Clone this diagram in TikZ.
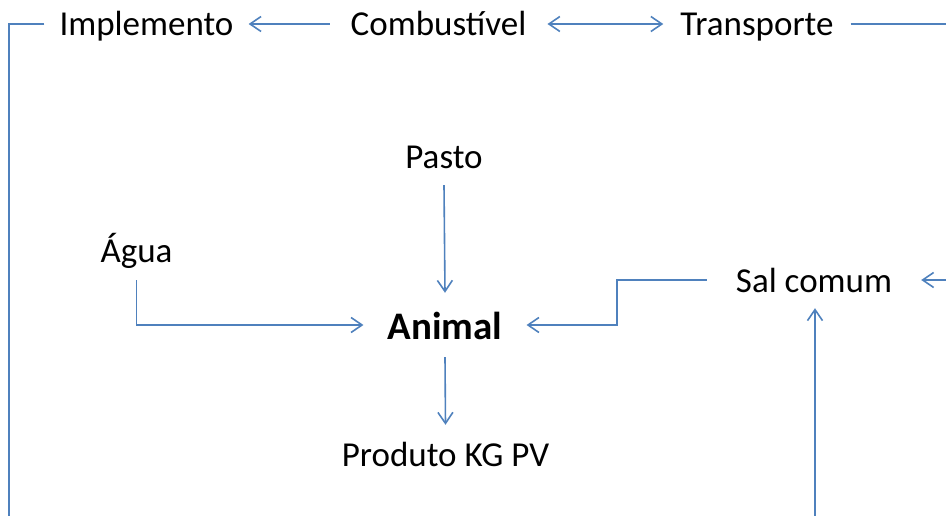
\documentclass[tikz,border=0pt]{standalone}
\usepackage{fontspec}
\setmainfont{Carlito}
\usetikzlibrary{arrows.meta}
\definecolor{flowblue}{HTML}{4F81BD}
\begin{document}
\begin{tikzpicture}[x=1pt,y=-1pt,
  lbl/.style={anchor=base, inner xsep=17pt, inner ysep=0pt, text height=24pt, text depth=0pt,
    font=\fontsize{35}{40}\selectfont},
  link/.style={draw=flowblue, line width=1.6pt},
  arr/.style={link, -{Straight Barb[length=11pt,width=15pt]}},
  darr/.style={link, {Straight Barb[length=11pt,width=15pt]}-{Straight Barb[length=11pt,width=15pt]}}]
  \useasboundingbox (0,0) rectangle (946,516);

  % top row
  \node[lbl, inner xsep=15pt] (imp) at (146.5,36) {Implemento};
  \node[lbl, inner xsep=21pt] (comb) at (438.5,36) {Combustível};
  \node[lbl] (tr) at (757,36) {Transporte};

  % centre column
  \node[lbl, inner ysep=16pt] (pasto) at (444,169) {Pasto};
  \node[lbl, inner ysep=18pt] (agua) at (136.5,262) {Água};
  \node[lbl, inner xsep=24pt, inner ysep=18pt, text height=28pt,
        font=\fontsize{39}{44}\selectfont\bfseries] (ani) at (445,339) {Animal};
  \node[lbl, inner ysep=17pt] (prod) at (445.5,466) {Produto KG PV};
  \node[lbl, inner xsep=29pt, inner ysep=16pt] (sal) at (814,292) {Sal comum};

  % loose ends running off the frame
  \coordinate (leftdown) at (9,520);
  \coordinate (rightout) at (950,24);
  \coordinate (rightin) at (950,280);
  \coordinate (bottomin) at (815,520);
  \coordinate (kink) at (617,300);

  % connectors
  \draw[link] (imp.west) -| (leftdown);
  \draw[arr] (comb.west) -- (imp.east);
  \draw[darr] (comb.east) -- (tr.west);
  \draw[link] (tr.east) -- (rightout);
  \draw[arr] (pasto.south) -- (ani.north);
  \draw[arr] (agua.south) |- (ani.west);
  \draw[arr] (sal.west) -| (kink) |- (ani.east);
  \draw[arr] (ani.south) -- (prod.north);
  \draw[arr] (rightin) -- (sal.east);
  \draw[arr] (bottomin) -- (sal.south -| bottomin);
\end{tikzpicture}
\end{document}
